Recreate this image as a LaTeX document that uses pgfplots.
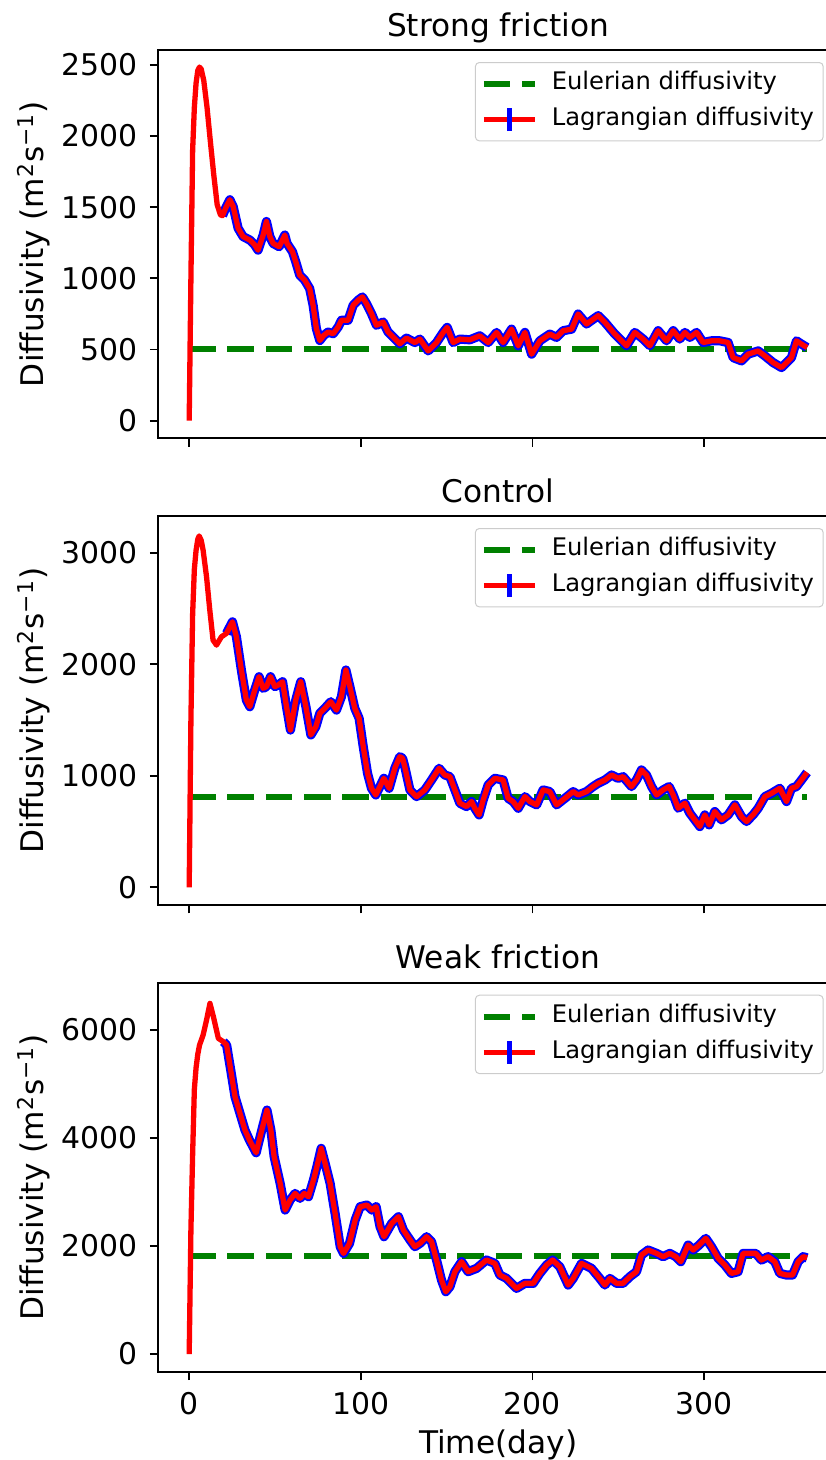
\documentclass[border=0pt]{standalone}
\usepackage{fontspec}
\setmainfont{DejaVu Sans}
\usepackage{pgfplots}
\usepackage{pgfplotstable}
\pgfplotsset{compat=1.18}
\newcommand\tickfont{\fontsize{14.95pt}{18pt}\selectfont}
\newcommand\labfont{\fontsize{15.6pt}{19pt}\selectfont}
\newcommand\legfont{\fontsize{12.1pt}{14.5pt}\selectfont}
\definecolor{mgreen}{rgb}{0,0.5,0}

\pgfplotstableread{
t v
0 0
1 1000
2 1900
3 2200
4 2370
5 2460
6 2484
7 2470
8.5 2389
10.4 2200
12.3 1965
14.3 1729
16.3 1517
18.2 1446
19.4 1440
21.5 1500
23.7 1552
25.6 1505
28.5 1352
31.4 1293
35.3 1269
38.2 1234
40.1 1198
43.1 1304
45 1399
47 1293
48.9 1245
52.4 1222
55.7 1304
57 1245
60.2 1186
62.1 1116
64.4 1022
67.3 987
70.2 928
72.2 810
74.1 646
76.1 563
78.4 599
80.9 622
83.9 611
86.8 658
88.7 705
92.6 705
95.5 810
98.4 846
100.9 869
103.3 822
106.2 752
109.1 670
113 693
115.9 622
119.8 575
122.7 540
126.6 580
131.5 549
134.4 573
139.2 490
144.1 549
148 620
150.3 655
153.8 549
157.7 573
163.5 568
169.3 596
174.2 549
179.1 620
182.9 549
187.8 643
191.7 526
195.6 620
199.5 467
204.3 561
210.1 608
214 585
217.9 632
222.8 643
226.6 749
231.5 679
238.3 738
242.2 691
248 608
254.8 526
259.6 620
264.5 573
268.4 526
273.2 632
278.1 561
282 632
285.8 573
288.8 620
291.7 585
295.6 620
299.4 549
304.3 561
309.1 561
314 549
316.9 443
321.8 420
325.6 467
331.5 490
335.4 455
340.2 408
345.1 373
350.9 443
353.8 561
356.7 538
360 514
}\strong

\pgfplotstableread{
t v
0 0
1 1500
2 2450
3 2850
4 3020
5 3120
5.8 3150
7 3110
8.1 3023
10.1 2784
12 2485
13.9 2216
15.9 2171
18.8 2246
21.7 2276
25.2 2380
27.5 2246
30.4 1948
33.3 1679
35.3 1619
38.2 1769
40.7 1888
43.1 1784
45 1799
47.4 1888
49.9 1799
51.8 1813
54.4 1843
56.7 1619
59 1410
62.1 1679
65 1843
68 1619
70.9 1366
73.8 1440
76.1 1560
79 1604
82.5 1664
85.8 1589
88.7 1709
91.3 1948
93.6 1799
96.5 1604
99 1515
101.4 1261
103.9 1022
106.2 888
108.7 828
111.1 903
113.4 977
116.5 888
119.8 1067
122.7 1171
124.3 1157
125.6 1082
128.6 873
132.5 813
137.3 873
141.2 962
145.6 1067
148.9 1007
151.9 992
154.8 873
157.7 754
161.6 724
164.5 769
166.4 709
168.9 649
171.3 784
174.2 918
178.1 977
182.9 962
185.8 798
188.7 769
191.7 709
195.6 813
198.5 769
202.4 739
206.2 873
210.1 858
214 739
218.9 798
223.7 858
226.6 828
231.5 858
235.3 903
238.3 933
242.2 962
246.1 1007
249.9 977
252.8 992
257.7 903
260.6 962
263.5 1052
266.4 1007
269.4 903
272.3 828
276.1 873
279.6 903
282 828
284.9 709
288.8 754
291.7 664
294.6 605
297.5 545
300.4 649
302.9 560
306.2 679
310.1 605
314 649
317.9 739
321.8 634
324.7 590
328.5 649
331.5 709
335.4 813
339.3 843
344.1 888
348 769
350.9 888
353.8 903
356.7 962
360 1030
}\control

\pgfplotstableread{
t v
0 0
1 2300
2 3700
3 4900
4 5300
5 5550
6 5720
8.1 5907
10.1 6185
12.1 6494
14.1 6247
17 5846
19.9 5784
21.8 5722
24.2 5259
26.7 4765
29.6 4456
32.5 4148
35.1 3963
39 3728
42.3 4148
45.3 4518
47.6 4148
49.5 3654
53 3160
55.9 2667
58.8 2852
61.7 2975
64.6 2883
67 2975
69.5 2914
72.4 3222
74.4 3469
76.9 3809
79.2 3531
82.1 3160
85 2605
88 1988
89.9 1864
93.4 2049
96.7 2482
99.6 2728
103.5 2759
106.4 2667
108.9 2728
111.2 2358
113.5 2173
118 2420
121.9 2543
124.8 2296
128.7 2111
131.5 1988
134.4 2049
138.3 2173
141.2 2080
144.1 1741
147 1370
149.5 1154
151.9 1247
154.8 1525
158.7 1710
162.5 1525
167.4 1586
173.2 1741
178.1 1679
181 1463
184.9 1401
190.7 1216
195.6 1309
200.4 1309
204.3 1494
208.2 1648
211.7 1741
215.9 1617
220.8 1278
223.7 1401
228.6 1679
234.4 1586
239.2 1401
242.2 1278
245.1 1401
249 1309
252.8 1309
256.7 1432
260.6 1525
263.5 1833
267.4 1926
272.3 1864
276.1 1803
280 1864
283.5 1803
286.4 1710
290.7 2018
293.6 1926
297.1 2018
301 2142
304.3 1988
308.2 1772
312.1 1648
315.9 1494
319.8 1525
322.7 1864
326.6 1864
330.1 1864
333.4 1741
337.3 1803
341.2 1710
344.1 1494
348 1463
351.5 1463
354.8 1710
357.7 1803
360 1780
}\weak

\pgfplotsset{
  common/.style={
    scale only axis, width=339.85pt, anchor=south west,
    xmin=-18, xmax=378, xtick={0,100,200,300},
    tick align=outside, tick pos=left, major tick length=4.15pt,
    every tick/.style={black, line width=0.9pt},
    axis line style={line width=0.9pt},
    ticklabel style={font=\tickfont},
    yticklabel style={inner sep=0pt}, xticklabel style={inner sep=0pt},
    xticklabel shift=5.85pt, yticklabel shift=5.85pt,
    /pgf/number format/assume math mode=true,
    /pgf/number format/set thousands separator={},
    scaled ticks=false,
    label style={font=\labfont},
    ylabel={Diffusivity (m\textsuperscript{2}s\textsuperscript{−1})},
    ylabel style={at={(axis description cs:-0.1682,0.5)}, anchor=base},
    every axis title shift=0pt,
    title style={font=\labfont, at={(axis description cs:0.5,1)}, anchor=base, yshift=7pt},
    legend cell align=left,
    legend style={at={(1,1)}, anchor=north east, xshift=-7.15pt, yshift=-6pt,
      draw=black!20, rounded corners=2pt, line width=0.5pt,
      fill=white, fill opacity=0.8, text opacity=1, font=\legfont,
      inner sep=2.7pt, row sep=1.8pt, column sep=4.7pt,
      nodes={inner sep=2pt, text height=9pt, text depth=3pt}},
  },
  eul/.style={mgreen, line width=3pt, dash pattern=on 13.3pt off 5.85pt,
    legend image code/.code={\draw[mgreen, line width=3pt, dash pattern=on 13.3pt off 5.85pt] (0pt,0pt) -- (25.8pt,0pt);}},
  lagblue/.style={blue, line width=4.6pt, line join=round, forget plot, restrict x to domain=19:360},
  lagred/.style={red, line width=2.65pt, line join=round,
    legend image code/.code={\draw[red, line width=2.65pt] (0pt,0pt) -- (25.8pt,0pt);
      \draw[blue, line width=2.5pt] (12.9pt,-5.75pt) -- (12.9pt,5.75pt);}},
}

\begin{document}
\begin{tikzpicture}
\begin{axis}[common, at={(79.15pt,-219.15pt)}, height=194.15pt,
  ymin=-124, ymax=2604, ytick={0,500,1000,1500,2000,2500},
  xticklabels={}, title={Strong friction}]
\addplot[eul] coordinates {(0,500) (360,500)};
\addlegendentry{Eulerian diffusivity}
\addplot[lagblue] table[x=t,y=v] {\strong};
\addplot[lagred] table[x=t,y=v] {\strong};
\addlegendentry{Lagrangian diffusivity}
\end{axis}

\begin{axis}[common, at={(79.15pt,-452.5pt)}, height=194.5pt,
  ymin=-158.5, ymax=3328.5, ytick={0,1000,2000,3000},
  xticklabels={}, title={Control}]
\addplot[eul] coordinates {(0,812) (360,812)};
\addlegendentry{Eulerian diffusivity}
\addplot[lagblue] table[x=t,y=v] {\control};
\addplot[lagred] table[x=t,y=v] {\control};
\addlegendentry{Lagrangian diffusivity}
\end{axis}

\begin{axis}[common, at={(79.15pt,-685.85pt)}, height=194.5pt,
  ymin=-327.5, ymax=6877, ytick={0,2000,4000,6000},
  title={Weak friction}, xlabel={Time(day)},
  xlabel style={at={(axis description cs:0.5,0)}, anchor=base, yshift=-40.65pt}]
\addplot[eul] coordinates {(0,1820) (360,1820)};
\addlegendentry{Eulerian diffusivity}
\addplot[lagblue] table[x=t,y=v] {\weak};
\addplot[lagred] table[x=t,y=v] {\weak};
\addlegendentry{Lagrangian diffusivity}
\end{axis}
\pgfresetboundingbox
\path[use as bounding box] (0pt,0pt) rectangle (412.5pt,-730pt);
\end{tikzpicture}
\end{document}
